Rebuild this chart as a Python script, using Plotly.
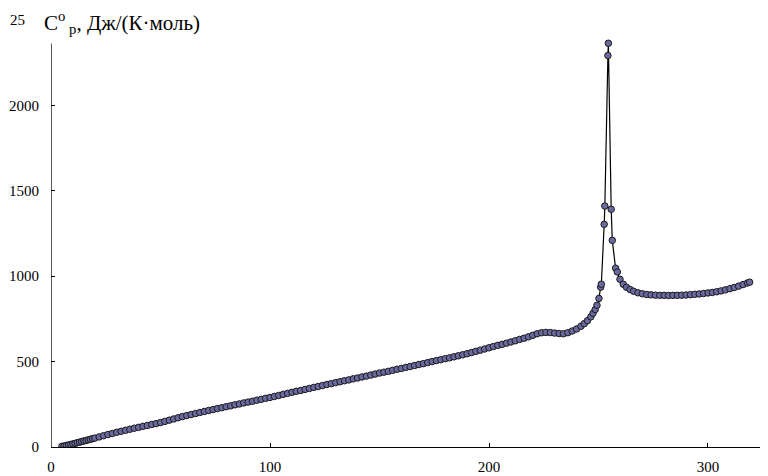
import plotly.graph_objects as go

# Temperature, K
T = [5, 6, 7, 8, 9, 10, 11, 12, 13, 14, 15, 16, 17, 18, 19, 20,
     22, 24, 26, 28, 30, 32, 34, 36, 38, 40, 42, 44, 46, 48, 50,
     52, 54, 56, 58, 60, 62, 64, 66, 68, 70, 72, 74, 76, 78, 80,
     82, 84, 86, 88, 90, 92, 94, 96, 98, 100, 102, 104, 106, 108, 110,
     112, 114, 116, 118, 120, 122, 124, 126, 128, 130, 132, 134, 136, 138, 140,
     142, 144, 146, 148, 150, 152, 154, 156, 158, 160, 162, 164, 166, 168, 170,
     172, 174, 176, 178, 180, 182, 184, 186, 188, 190, 192, 194, 196, 198, 200,
     202, 204, 206, 208, 210, 212, 214, 216, 218, 220, 222, 224, 226, 228, 230,
     232, 234, 236, 238, 240, 242, 243.5, 245, 246.5, 247.5, 248.5, 249.3, 250.2,
     251, 251.3, 252.6, 252.9, 254.3, 254.5, 255.8, 256.3, 257.8, 258.6, 259.8,
     261.3, 262.8, 264.4, 266, 268, 270, 272, 274, 276, 278, 280, 282, 284, 286,
     288, 290, 292, 294, 296, 298, 300, 302, 304, 306, 308, 310, 312, 314, 316,
     318, 319]

# Heat capacity, J/(K*mol)
Cp = [4, 6, 9, 12, 15, 18, 21, 25, 28, 32, 35, 38, 42, 45, 49, 52,
      59, 66, 73, 79, 86, 92, 98, 104, 110, 115, 121, 126, 132, 137, 143,
      150, 157, 164, 171, 178, 184, 190, 196, 202, 208, 214, 219, 225, 230, 236,
      241, 247, 252, 258, 263, 268, 274, 279, 285, 290, 296, 302, 308, 314, 320,
      326, 331, 337, 343, 349, 354, 360, 366, 371, 377, 382, 388, 393, 399, 404,
      410, 415, 421, 427, 433, 438, 443, 449, 455, 460, 466, 471, 477, 483, 488,
      494, 500, 506, 511, 517, 522, 528, 534, 540, 546, 553, 560, 567, 574, 581,
      588, 595, 601, 608, 615, 622, 630, 637, 645, 654, 663, 669, 671, 670, 667,
      664, 663, 669, 679, 691, 707, 722, 740, 762, 783, 805, 830, 870,
      936, 953, 1304, 1411, 2292, 2364, 1392, 1210, 1047, 1025, 982,
      953, 935, 922, 912, 903, 897, 893, 891, 889, 888, 888, 887, 888, 888,
      889, 890, 892, 894, 896, 899, 902, 905, 909, 914, 920, 927, 934, 942, 951,
      960, 965]

x_ticks = [0, 100, 200, 300]
y_ticks = [0, 500, 1000, 1500, 2000]

FONT = "Liberation Serif, Times New Roman, serif"

fig = go.Figure()
fig.add_trace(go.Scatter(
    x=T, y=Cp, mode="lines+markers",
    line=dict(color="black", width=1.2),
    marker=dict(size=6.5, color="#6A6AA0", line=dict(color="#1a1a1a", width=1)),
    showlegend=False,
))

L, PW, PH = 43, 717, 427
fig.update_layout(
    width=760, height=468,
    margin=dict(l=L, r=0, t=12, b=29, autoexpand=False),
    paper_bgcolor="white", plot_bgcolor="white",
    font=dict(family=FONT, size=15, color="black"),
    xaxis=dict(range=[0, 327.4], tickvals=x_ticks, ticks="inside", ticklen=4,
               tickcolor="black", showline=True, linecolor="black", linewidth=1.3,
               showgrid=False, zeroline=False, ticklabelstandoff=6),
    yaxis=dict(range=[0, 2500], tickvals=y_ticks, ticks="inside", ticklen=4,
               tickcolor="black", showline=False, showgrid=False, zeroline=False,
               ticklabelstandoff=11),
    shapes=[dict(type="line", xref="x", yref="y", x0=0, x1=0, y0=0, y1=2362,
                 line=dict(color="black", width=1.3))],
    annotations=[
        dict(text="25", xref="paper", yref="paper", x=-L / PW, y=1.0,
             xanchor="left", yanchor="middle", showarrow=False,
             font=dict(family=FONT, size=15)),
        dict(text="C<sup>o</sup><sub> p</sub>, Дж/(К·моль)", xref="paper", yref="paper",
             x=-9 / PW, y=1 - 2 / PH, xanchor="left", yanchor="middle", showarrow=False,
             font=dict(family=FONT, size=21)),
    ],
)

fig.write_html("out.html")
